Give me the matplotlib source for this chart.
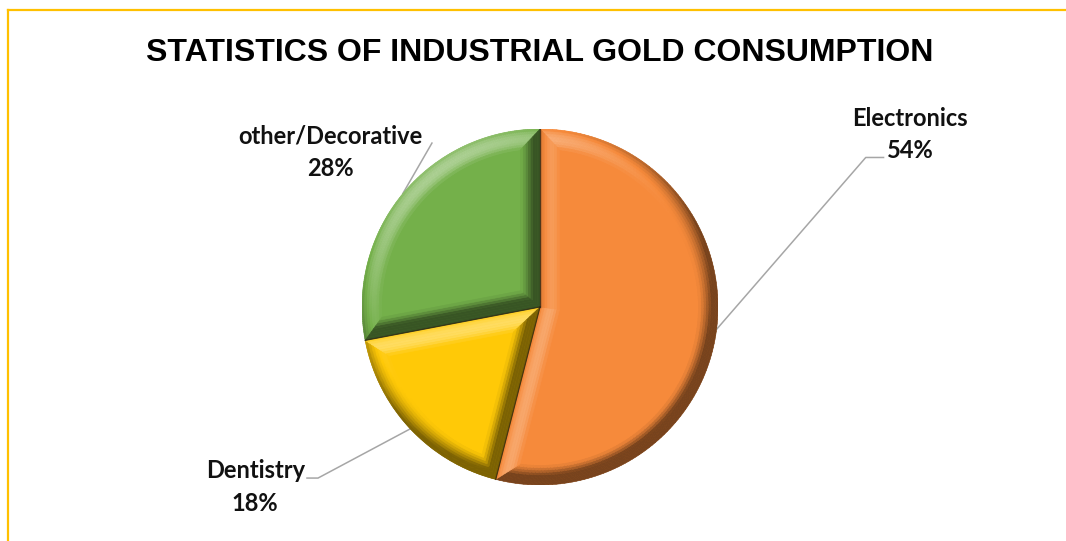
import numpy as np
import matplotlib.pyplot as plt
from matplotlib.collections import PolyCollection
from matplotlib.lines import Line2D
from matplotlib.colors import to_rgb

title = "STATISTICS OF INDUSTRIAL GOLD CONSUMPTION"
categories = ["Electronics", "Dentistry", "other/Decorative"]
shares = [54, 18, 28]
colors = ["#F68A3B", "#FFC907", "#74B04A"]

# label centres and leader elbows, in pie-radius units
label_xy = [(2.08, 0.97), (-1.60, -1.01), (-1.18, 0.87)]
leader_xy = [[(1.83, 0.84), (1.93, 0.84)],
             [(-1.247, -0.961), (-1.309, -0.961)],
             [(-0.607, 0.921)]]

# light from the upper left, about 40 degrees above the page
LIGHT_XY = np.array([-0.55, 0.83])
LIGHT_XY = LIGHT_XY / np.linalg.norm(LIGHT_XY) * np.cos(np.radians(40))
LIGHT_Z = np.sin(np.radians(40))


def shade(rgb, diff):
    rgb = np.array(rgb)
    if diff >= 0:
        return rgb + (1 - rgb) * 1.15 * diff
    return rgb * (1 + 0.8 * diff)


def draw_face(polys, cols, outer, inner, normal, base, bands=8):
    # quarter-round bevel: steep at the outside, flat where it meets the top
    k = float(np.dot(normal, LIGHT_XY))
    for j in range(bands):
        a = outer + (inner - outer) * j / bands
        b = outer + (inner - outer) * (j + 1) / bands
        f = (j + 0.5) / bands
        phi = np.pi / 2 * (1 - f)
        inten = max(0.0, np.sin(phi) * k + np.cos(phi) * LIGHT_Z)
        polys.append(np.vstack([a, b[::-1]]))
        cols.append(shade(base, inten - LIGHT_Z))


def bevel(ax, w, d=0.11, n=150):
    R = w.r
    c = np.array(w.center)
    t1, t2 = np.radians(w.theta1), np.radians(w.theta2)
    base = to_rgb(w.get_facecolor())
    r = R - d
    delta = np.arcsin(d / r)
    h = (t2 - t1) / 2
    apex = c + d / np.sin(h) * np.array([np.cos(t1 + h), np.sin(t1 + h)])
    polys, cols = [], []

    # rim, one strip per angular step
    to = np.linspace(t1, t2, n)
    ti = np.linspace(t1 + delta, t2 - delta, n)
    for i in range(n - 1):
        tm = (to[i] + to[i + 1]) / 2
        outer = c + R * np.column_stack([np.cos(to[i:i + 2]), np.sin(to[i:i + 2])])
        inner = c + r * np.column_stack([np.cos(ti[i:i + 2]), np.sin(ti[i:i + 2])])
        draw_face(polys, cols, outer, inner, np.array([np.cos(tm), np.sin(tm)]), base)

    # the two straight sides
    outer = np.array([c, c + R * np.array([np.cos(t1), np.sin(t1)])])
    inner = np.array([apex, c + r * np.array([np.cos(t1 + delta), np.sin(t1 + delta)])])
    draw_face(polys, cols, outer, inner, np.array([np.sin(t1), -np.cos(t1)]), base)
    outer = np.array([c, c + R * np.array([np.cos(t2), np.sin(t2)])])
    inner = np.array([apex, c + r * np.array([np.cos(t2 - delta), np.sin(t2 - delta)])])
    draw_face(polys, cols, outer, inner, np.array([-np.sin(t2), np.cos(t2)]), base)

    ax.add_collection(PolyCollection(polys, facecolors=cols, edgecolors=cols,
                                     linewidths=0.4, zorder=3))


fig = plt.figure(figsize=(10.66, 5.41), dpi=100)

# pie centred at (540, 307) px with a 178 px radius
W, H = 1066, 541
cx_px, cy_px, rad_px = 540, 307, 178
ax = fig.add_axes([(cx_px - rad_px) / W, (H - cy_px - rad_px) / H,
                   2 * rad_px / W, 2 * rad_px / H])

wedges, _ = ax.pie(shares, colors=colors, startangle=90, counterclock=False,
                   radius=1.0, center=(0, 0), frame=False,
                   wedgeprops=dict(linewidth=0))
ax.set_xlim(-1, 1)
ax.set_ylim(-1, 1)
ax.set_aspect("equal")
ax.axis("off")

for w in wedges:
    bevel(ax, w)
    # thin dark seam between slices
    t1 = np.radians(w.theta1)
    ax.plot([0, np.cos(t1)], [0, np.sin(t1)], color="#2a2010", lw=0.9, alpha=0.7, zorder=4)

total = sum(shares)
for w, name, val, (lx, ly), elbow in zip(wedges, categories, shares, label_xy, leader_xy):
    tm = np.radians((w.theta1 + w.theta2) / 2)
    pts = [(np.cos(tm), np.sin(tm))] + elbow
    xs, ys = zip(*pts)
    ax.plot(xs, ys, color="#A6A6A6", lw=1.1, clip_on=False, zorder=2)
    ax.text(lx, ly, f"{name}\n{round(100 * val / total)}%", ha="center", va="center",
            fontsize=17, fontweight="bold", family="Lato", linespacing=1.5,
            color="#111111", clip_on=False)

fig.text(540 / W, 1 - 61 / H, title, ha="center", va="baseline", fontsize=23,
         fontweight="bold", family="Liberation Sans", color="black")

# chart area border, only the top and left edges are visible
fig.add_artist(Line2D([8 / W, 1], [1 - 10 / H, 1 - 10 / H], color="#FFC000", lw=1.6))
fig.add_artist(Line2D([8 / W, 8 / W], [0, 1 - 10 / H], color="#FFC000", lw=1.6))

fig.savefig("out.png", dpi=100)
